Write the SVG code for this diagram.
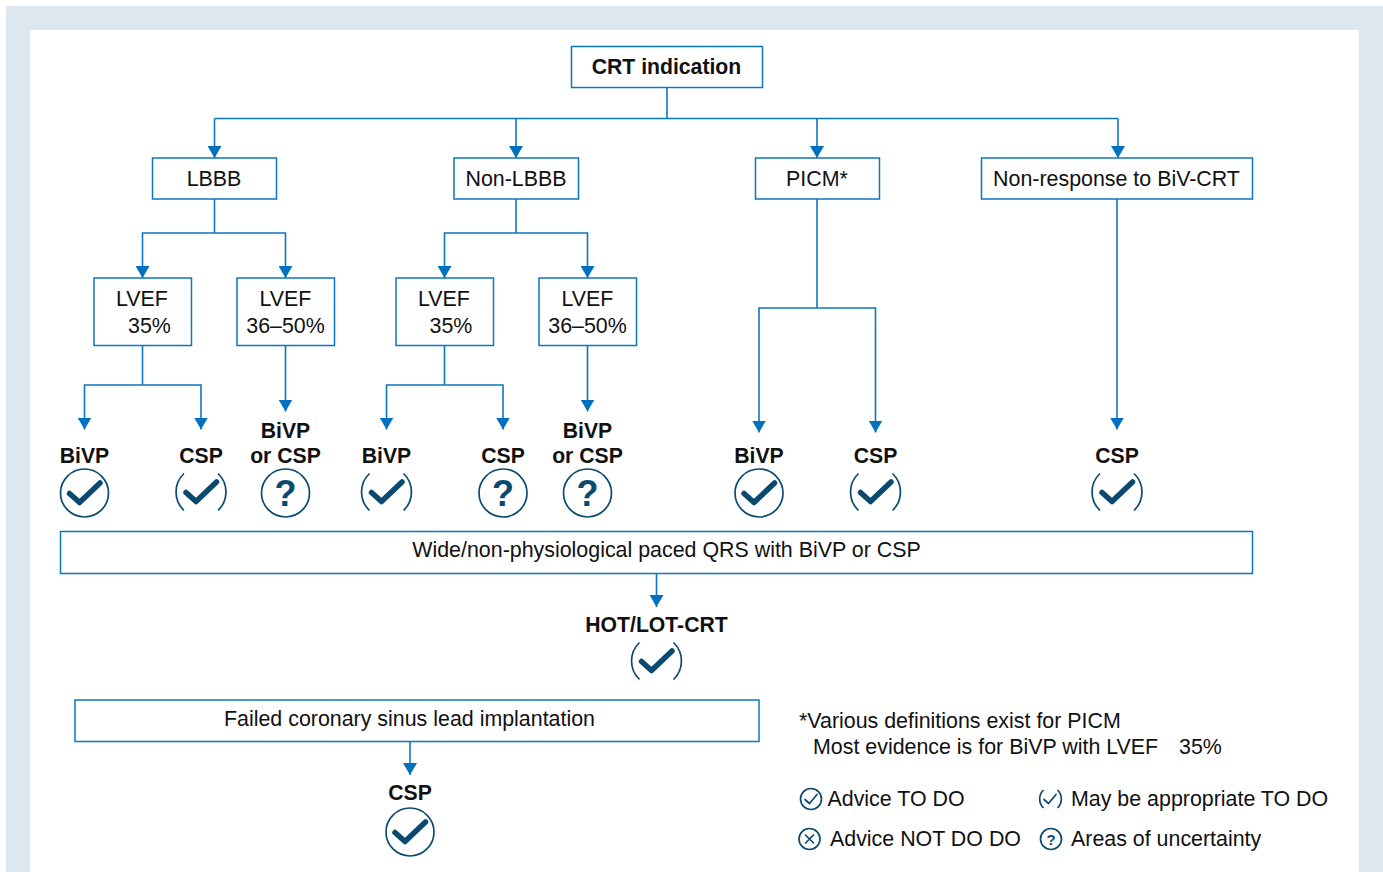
<svg xmlns="http://www.w3.org/2000/svg" width="1383" height="872" viewBox="0 0 1383 872">
<style>
text{font-family:"Liberation Sans",Arial,sans-serif;font-size:21.4px;fill:#111;text-anchor:middle}
.b{font-weight:bold;font-size:21.2px}
.l{text-anchor:start}
.box{fill:#fff;stroke:#0d76c0;stroke-width:1.5}
.c{fill:none;stroke:#0d76c0;stroke-width:1.6}
.ic{fill:none;stroke:#0b4a70;stroke-width:1.7}
.ck{fill:none;stroke:#0b4a70;stroke-width:5.5;stroke-linecap:round;stroke-linejoin:round}
.ck2{fill:none;stroke:#0b4a70;stroke-width:1.7;stroke-linecap:round;stroke-linejoin:round}
.q{font-weight:bold;font-size:36px;fill:#0b4a70}
.qs{font-weight:bold;font-size:15px;fill:#0b4a70}
</style>
<defs>
<marker id="a" markerUnits="userSpaceOnUse" markerWidth="12.500" markerHeight="14" refX="12" refY="7" orient="auto" viewBox="0 0 12.500 14"><path d="M0 0L12 7L0 14Z" fill="#0070c0"/></marker>
<g id="yes"><circle r="24" class="ic"/><path d="M-15 0.500L-5 9.500L15.500-10" class="ck"/></g>
<g id="may"><path d="M-17-18.500A25.500 25.500 0 0 0-17 18.500M17-18.500A25.500 25.500 0 0 1 17 18.500" class="ic"/><path d="M-15 0.500L-5 9.500L15.500-10" class="ck"/></g>
<g id="unk"><circle r="24" class="ic"/><text class="q" y="12.500">?</text></g>
</defs>
<rect x="6" y="6" width="1377" height="866" fill="#dde7f0"/>
<rect x="30" y="30" width="1329" height="842" fill="#fff"/>
<g id="connectors">
<path class="c" d="M667 88V118.500"/>
<path class="c" d="M214.500 118.500H1118"/>
<path class="c" marker-end="url(#a)" d="M214.500 118.500V158"/>
<path class="c" marker-end="url(#a)" d="M516 118.500V158"/>
<path class="c" marker-end="url(#a)" d="M817 118.500V158"/>
<path class="c" marker-end="url(#a)" d="M1118 118.500V158"/>
<path class="c" d="M214.500 199V233"/>
<path class="c" marker-end="url(#a)" d="M214.500 233H142.500V278"/>
<path class="c" marker-end="url(#a)" d="M214.500 233H285.500V278"/>
<path class="c" d="M516 199V233"/>
<path class="c" marker-end="url(#a)" d="M516 233H444.500V278"/>
<path class="c" marker-end="url(#a)" d="M516 233H587.500V278"/>
<path class="c" d="M142.500 346V385"/>
<path class="c" marker-end="url(#a)" d="M142.500 385H84.500V429.500"/>
<path class="c" marker-end="url(#a)" d="M142.500 385H201V429.500"/>
<path class="c" marker-end="url(#a)" d="M285.500 346V411.500"/>
<path class="c" d="M444.500 346V385"/>
<path class="c" marker-end="url(#a)" d="M444.500 385H386.500V429.500"/>
<path class="c" marker-end="url(#a)" d="M444.500 385H503V429.500"/>
<path class="c" marker-end="url(#a)" d="M587.500 346V411.500"/>
<path class="c" d="M817 199V308"/>
<path class="c" marker-end="url(#a)" d="M817 308H759V432.500"/>
<path class="c" marker-end="url(#a)" d="M817 308H875.500V432.500"/>
<path class="c" marker-end="url(#a)" d="M1117 199V429.500"/>
<path class="c" marker-end="url(#a)" d="M656.500 574V607"/>
<path class="c" marker-end="url(#a)" d="M410 742V775"/>
</g>
<g id="n-crt"><rect class="box" x="571.500" y="46.500" width="191" height="41"/><text class="b" x="666.500" y="74">CRT indication</text></g>
<g id="n-lbbb"><rect class="box" x="152.500" y="158" width="124" height="41"/><text x="214" y="186">LBBB</text></g>
<g id="n-nonlbbb"><rect class="box" x="454" y="158" width="124.500" height="41"/><text x="516" y="186">Non-LBBB</text></g>
<g id="n-picm"><rect class="box" x="755.500" y="158" width="124" height="41"/><text x="817" y="186">PICM*</text></g>
<g id="n-nonresp"><rect class="box" x="981.500" y="158" width="271" height="41"/><text x="1116.500" y="186">Non-response to BiV-CRT</text></g>
<g id="n-lvef1"><rect class="box" x="94" y="278" width="97.500" height="67.500"/><text x="142" y="306">LVEF</text><text x="149.500" y="332.500">35%</text></g>
<g id="n-lvef2"><rect class="box" x="237" y="278" width="97.500" height="67.500"/><text x="285.500" y="306">LVEF</text><text x="285.500" y="332.500">36–50%</text></g>
<g id="n-lvef3"><rect class="box" x="396" y="278" width="97.500" height="67.500"/><text x="444" y="306">LVEF</text><text x="451" y="332.500">35%</text></g>
<g id="n-lvef4"><rect class="box" x="539" y="278" width="97.500" height="67.500"/><text x="587.500" y="306">LVEF</text><text x="587.500" y="332.500">36–50%</text></g>
<g id="o-1"><text class="b" x="84.500" y="463">BiVP</text><use href="#yes" x="84.500" y="493"/></g>
<g id="o-2"><text class="b" x="201" y="463">CSP</text><use href="#may" x="201" y="492"/></g>
<g id="o-3"><text class="b" x="285.500" y="438">BiVP</text><text class="b" x="285.500" y="463">or CSP</text><use href="#unk" x="285.500" y="493"/></g>
<g id="o-4"><text class="b" x="386.500" y="463">BiVP</text><use href="#may" x="386.500" y="492"/></g>
<g id="o-5"><text class="b" x="503" y="463">CSP</text><use href="#unk" x="503" y="493"/></g>
<g id="o-6"><text class="b" x="587.500" y="438">BiVP</text><text class="b" x="587.500" y="463">or CSP</text><use href="#unk" x="587.500" y="493"/></g>
<g id="o-7"><text class="b" x="759" y="463">BiVP</text><use href="#yes" x="759" y="493"/></g>
<g id="o-8"><text class="b" x="875.500" y="463">CSP</text><use href="#may" x="875.500" y="492"/></g>
<g id="o-9"><text class="b" x="1117" y="463">CSP</text><use href="#may" x="1117" y="492"/></g>
<g id="n-wide"><rect class="box" x="60.500" y="531.500" width="1192" height="42"/><text x="666.500" y="557">Wide/non-physiological paced QRS with BiVP or CSP</text></g>
<g id="o-hot"><text class="b" x="656.500" y="632">HOT/LOT-CRT</text><use href="#may" x="656.500" y="661"/></g>
<g id="n-failed"><rect class="box" x="75" y="700" width="684" height="41.500"/><text x="409.500" y="726">Failed coronary sinus lead implantation</text></g>
<g id="o-csp"><text class="b" x="410" y="800">CSP</text><use href="#yes" x="410" y="832"/></g>
<g id="footnote"><text class="l" x="799" y="728">*Various definitions exist for PICM</text><text class="l" x="813" y="754">Most evidence is for BiVP with LVEF</text><text class="l" x="1179" y="754">35%</text></g>
<g id="legend">
<circle class="ic" cx="811" cy="799" r="10.500"/><path class="ck2" d="M805 799.500L809.500 803.500L817 794.500"/><text class="l" x="827.500" y="806">Advice TO DO</text>
<path class="ic" d="M1043.500 790A12.500 12.500 0 0 0 1043.500 808M1057.500 790A12.500 12.500 0 0 1 1057.500 808"/><path class="ck2" d="M1044 799.500L1048.500 803.500L1056 794.500"/><text class="l" x="1071" y="806">May be appropriate TO DO</text>
<circle class="ic" cx="809.500" cy="839" r="10.500"/><path class="ck2" d="M805.500 835L813.500 843M813.500 835L805.500 843"/><text class="l" x="830" y="846">Advice NOT DO DO</text>
<circle class="ic" cx="1051" cy="839" r="10.500"/><text class="qs" x="1051" y="844.500">?</text><text class="l" x="1071" y="846">Areas of uncertainty</text>
</g>
</svg>
